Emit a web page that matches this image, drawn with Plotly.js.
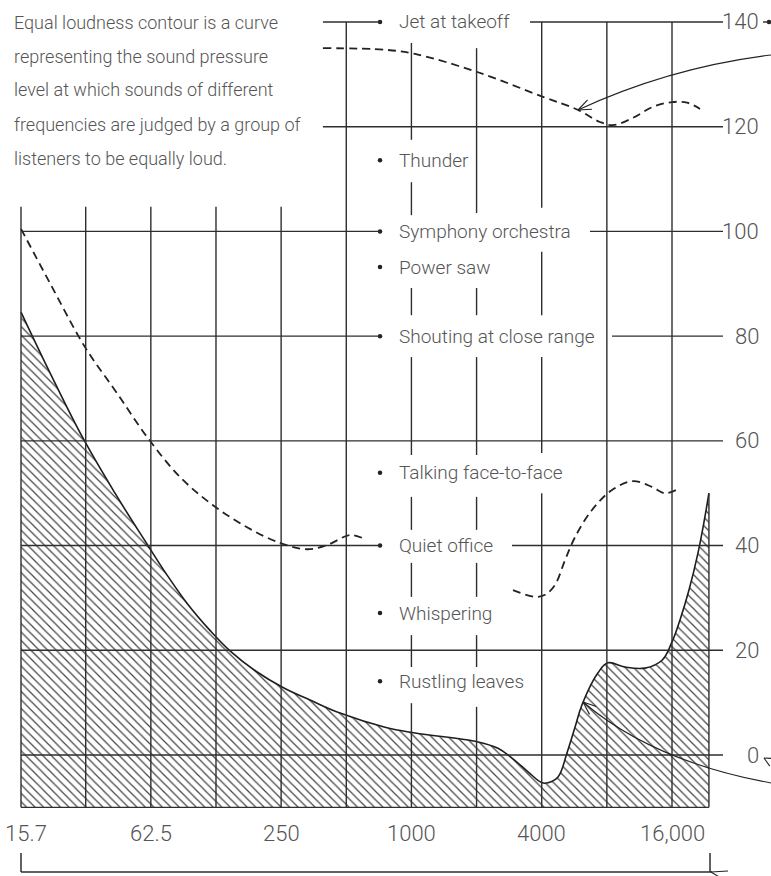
<!DOCTYPE html>
<html>
<head>
<meta charset="utf-8">
<script src="https://cdn.plot.ly/plotly-3.0.1.min.js"></script>
<style>html,body{margin:0;padding:0;background:#fff;}#chart{width:771px;height:876px;}</style>
</head>
<body>
<div id="chart"></div>
<script>
// ---------------- DATA ----------------
const gridFreqs = [15.7, 31.25, 62.5, 125, 250, 500, 1000, 2000, 4000, 8000, 16000];
const gridDb = [140, 120, 100, 80, 60, 40, 20, 0, -10];
const xTickVals = [15.7, 62.5, 250, 1000, 4000, 16000];
const xTickText = ['15.7', '62.5', '250', '1000', '4000', '16,000'];
const yTickVals = [140, 120, 100, 80, 60, 40, 20, 0];
const yTickText = ['140', '120', '100', '80', '60', '40', '20', '0'];

// threshold of hearing (solid, hatched below)
const thrFreq = [15.7, 21.38, 30.38, 42.69, 60.0, 74.2, 91.8, 117.3, 145.1, 191.3, 255.0, 339.9, 467.8, 755.0, 1038.8, 2030, 2512, 2916, 3457, 4012, 4277, 4757, 5234, 5701, 6142, 7280, 8096, 9703, 12005, 14384, 16000, 17420, 19170, 21100, 22490, 23700];
const thrDb = [84.6, 73.0, 60.5, 50.0, 40.3, 34.4, 29.0, 23.8, 19.9, 16.0, 12.9, 10.5, 8.0, 5.3, 4.2, 2.5, 1.3, -0.6, -3.2, -5.3, -5.3, -4.2, 0.4, 5.3, 9.6, 15.7, 17.6, 16.8, 16.6, 18.1, 21.6, 25.8, 31.5, 38.6, 44.5, 50.0];

// 40-phon contour (dashed), two visible pieces
const c40aFreq = [15.7, 21.38, 31.02, 43.61, 60.65, 85.23, 121.1, 173.9, 247.0, 329.3, 407.3, 520.2, 597.4];
const c40aDb = [100.5, 90.1, 77.9, 69.1, 60.5, 53.1, 47.7, 43.5, 40.5, 39.3, 40.1, 42.0, 41.4];
const c40bFreq = [2947, 3725, 4143, 4608, 5124, 5701, 6830, 8452, 10566, 12932, 14856, 17057];
const c40bDb = [31.5, 30.2, 30.6, 32.5, 37.2, 41.6, 46.8, 50.6, 52.3, 51.2, 50.0, 50.8];

// 120-phon contour (dashed, top)
const c120Freq = [390, 755, 1039, 2030, 4055, 5886, 7436, 8543, 10566, 13071, 16000, 18770, 21560];
const c120Db = [135.0, 134.7, 133.9, 130.4, 125.7, 123.2, 120.9, 120.3, 121.7, 123.8, 124.7, 124.6, 123.4];

// everyday sounds
const soundLabels = ['Jet at takeoff', 'Thunder', 'Symphony orchestra', 'Power saw', 'Shouting at close range', 'Talking face-to-face', 'Quiet office', 'Whispering', 'Rustling leaves'];
const soundDb = [140, 113.6, 100, 93.2, 80, 53.9, 40, 27.1, 14.1];

const introLines = ['Equal loudness contour is a curve', 'representing the sound pressure', 'level at which sounds of different', 'frequencies are judged by a group of', 'listeners to be equally loud.'];

// ---------------- LAYOUT ----------------
const W = 771, H = 876;
const X_RANGE = [1.09886, 4.66158];
const Y_RANGE = [-23.11, 144.20];
const FLOOR = -10;
const FONT = "Roboto, 'Liberation Sans', sans-serif";
const TXT = '#555';
const INK = '#2e2e2e';
const BULLET_F = 716;
const LINE_END_F = 27530;

// segments of the hand-drawn grid (gaps where labels sit)
const vSegs = {
  15.7: [[FLOOR, 104.7]], 31.25: [[FLOOR, 104.7]], 62.5: [[FLOOR, 104.7]], 125: [[FLOOR, 104.7]], 250: [[FLOOR, 104.7]],
  500: [[FLOOR, 140]],
  1000: [[FLOOR, 9.9], [16.8, 22.9], [30.2, 36.7], [43, 49.3], [57.3, 76], [84, 89.2], [103.1, 109.4], [117.5, 136]],
  2000: [[FLOOR, 9.2], [16.8, 22.9], [30.2, 36.7], [43, 49.3], [57.3, 76], [84, 89.2], [103.5, 135]],
  4000: [[FLOOR, 50], [57.7, 76], [84, 96.1], [104.5, 140]],
  8000: [[FLOOR, 140]], 16000: [[FLOOR, 140]]
};
const hSegs = {
  140: [[390, BULLET_F], [3532, LINE_END_F]],
  120: [[390, LINE_END_F]],
  100: [[15.7, BULLET_F], [6686, LINE_END_F]],
  80: [[15.7, BULLET_F], [8452, LINE_END_F]],
  60: [[15.7, LINE_END_F]],
  40: [[15.7, BULLET_F], [2916, LINE_END_F]],
  20: [[15.7, LINE_END_F]],
  0: [[15.7, LINE_END_F]],
  '-10': [[15.7, thrFreq[thrFreq.length - 1]]]
};

const shapes = [];
const gl = {color: INK, width: 1.4};
gridFreqs.forEach(f => (vSegs[f] || []).forEach(s => shapes.push({type: 'line', xref: 'x', yref: 'y', x0: f, x1: f, y0: s[0], y1: s[1], line: gl})));
gridDb.forEach(d => (hSegs[d] || []).forEach(s => shapes.push({type: 'line', xref: 'x', yref: 'y', x0: s[0], x1: s[1], y0: d, y1: d, line: gl})));
// right edge of the hatched area
const fEnd = thrFreq[thrFreq.length - 1];
shapes.push({type: 'line', xref: 'x', yref: 'y', x0: fEnd, x1: fEnd, y0: FLOOR, y1: thrDb[thrDb.length - 1], line: gl});

// decorative pointers (paper coords from pixels)
const px = x => x / W, py = y => 1 - y / H;
const thin = {color: '#222', width: 1.1};
function qpath(p0, c, p1) {
  return `M ${px(p0[0])} ${py(p0[1])} Q ${px(c[0])} ${py(c[1])} ${px(p1[0])} ${py(p1[1])}`;
}
function head(tip, dir, len, ang) {
  const n = Math.hypot(dir[0], dir[1]); const ux = dir[0] / n, uy = dir[1] / n;
  const out = [];
  [ang, -ang].forEach(a => {
    const ca = Math.cos(a), sa = Math.sin(a);
    const bx = -(ux * ca - uy * sa), by = -(ux * sa + uy * ca);
    out.push({type: 'line', xref: 'paper', yref: 'paper', x0: px(tip[0]), y0: py(tip[1]), x1: px(tip[0] + bx * len), y1: py(tip[1] + by * len), line: thin});
  });
  return out;
}
shapes.push({type: 'path', xref: 'paper', yref: 'paper', path: qpath([771, 55], [669.5, 67.5], [578, 110]), line: thin});
shapes.push(...head([578, 110], [-91.5, 42.5], 14, 0.38));
shapes.push({type: 'path', xref: 'paper', yref: 'paper', path: qpath([771, 783], [653, 761.5], [583, 702]), line: thin});
shapes.push(...head([583, 702], [-70, -59.5], 14, 0.38));
shapes.push(...head([764, 758], [-1, -0.55], 10, 0.45));
// bottom bracket
const bl = {color: INK, width: 1.5};
shapes.push({type: 'line', xref: 'paper', yref: 'paper', x0: px(21), x1: px(712), y0: py(872), y1: py(872), line: bl});
shapes.push({type: 'line', xref: 'paper', yref: 'paper', x0: px(21), x1: px(21), y0: py(853), y1: py(872), line: bl});
shapes.push({type: 'line', xref: 'paper', yref: 'paper', x0: px(710), x1: px(710), y0: py(853), y1: py(872), line: bl});
shapes.push(...head([711, 872], [-1, -0.25], 17, 0.3));
// dash after the 140 label
shapes.push({type: 'line', xref: 'paper', yref: 'paper', x0: px(763), x1: px(771), y0: py(22), y1: py(22), line: gl});

// ---------------- TRACES ----------------
const traces = [
  {x: thrFreq, y: thrFreq.map(() => FLOOR), mode: 'lines', line: {width: 0}, hoverinfo: 'skip', showlegend: false},
  {x: thrFreq, y: thrDb, mode: 'lines', fill: 'tonexty', fillcolor: '#ffffff',
   fillpattern: {shape: '\\', size: 6, solidity: 0.2, fgcolor: '#444444', bgcolor: '#ffffff', fillmode: 'replace'},
   line: {color: '#1e1e1e', width: 1.6, shape: 'spline', smoothing: 1.1}, showlegend: false},
  {x: c40aFreq, y: c40aDb, mode: 'lines', line: {color: '#222', width: 1.8, dash: '8px,5px', shape: 'spline', smoothing: 1}, showlegend: false},
  {x: c40bFreq, y: c40bDb, mode: 'lines', line: {color: '#222', width: 1.8, dash: '8px,5px', shape: 'spline', smoothing: 1}, showlegend: false},
  {x: c120Freq, y: c120Db, mode: 'lines', line: {color: '#222', width: 1.8, dash: '8px,5px', shape: 'spline', smoothing: 1}, showlegend: false},
  {x: soundLabels.map(() => BULLET_F), y: soundDb, mode: 'markers', marker: {size: 4.5, color: '#222'}, showlegend: false},
  {x: [44900], y: [140], mode: 'markers', marker: {size: 4.5, color: '#222'}, showlegend: false, cliponaxis: false}
];

// ---------------- TEXT ----------------
const annotations = [];
const lab = s => ({family: FONT, size: s, color: TXT, weight: 300});
soundLabels.forEach((t, i) => annotations.push({text: t, xref: 'paper', yref: 'y', x: px(397), y: soundDb[i], xanchor: 'left', yanchor: 'middle', showarrow: false, font: lab(19)}));
yTickVals.forEach((v, i) => annotations.push({text: yTickText[i], xref: 'paper', yref: 'y', x: px(761), y: v, xanchor: 'right', yanchor: 'middle', showarrow: false, font: lab(22)}));
xTickVals.forEach((v, i) => annotations.push({text: xTickText[i], xref: 'x', yref: 'paper', x: Math.log10(v), y: py(833), xanchor: 'center', yanchor: 'middle', xshift: i === 0 ? 5 : 0, showarrow: false, font: lab(22)}));
introLines.forEach((t, i) => annotations.push({text: t, xref: 'paper', yref: 'paper', x: px(12), y: py(22 + i * 34), xanchor: 'left', yanchor: 'middle', showarrow: false, font: lab(18)}));

const layout = {
  width: W, height: H,
  margin: {l: 0, r: 0, t: 0, b: 0, pad: 0},
  paper_bgcolor: '#ffffff', plot_bgcolor: '#ffffff',
  showlegend: false,
  xaxis: {type: 'log', range: X_RANGE, visible: false, fixedrange: true},
  yaxis: {range: Y_RANGE, visible: false, fixedrange: true},
  shapes: shapes,
  annotations: annotations
};

Plotly.newPlot('chart', traces, layout, {staticPlot: true, displayModeBar: false});
</script>
</body>
</html>
